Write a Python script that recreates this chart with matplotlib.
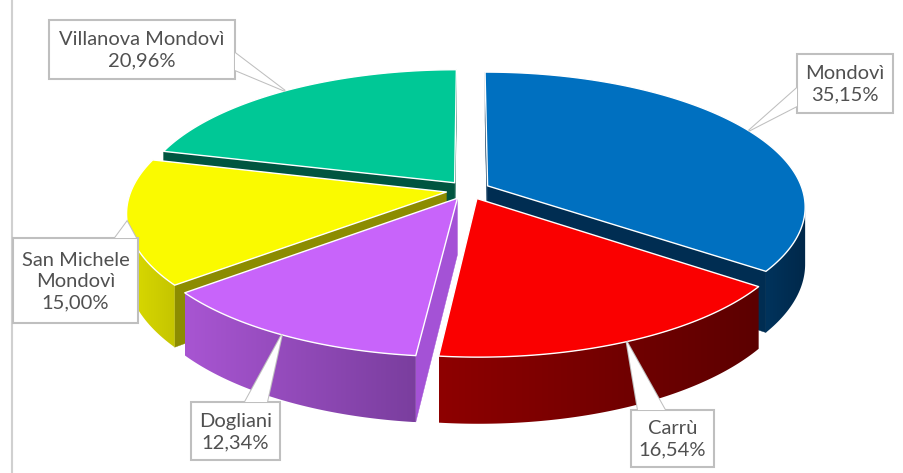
import numpy as np
import matplotlib
matplotlib.use("Agg")
import matplotlib.pyplot as plt
from matplotlib.patches import Polygon, Rectangle
from matplotlib.colors import to_rgb

# ---------------- data ----------------
categories = ["Mondovì", "Carrù", "Dogliani", "San Michele\nMondovì", "Villanova Mondovì"]
values = [35.15, 16.54, 12.34, 15.00, 20.96]
pct_labels = ["35,15%", "16,54%", "12,34%", "15,00%", "20,96%"]

top_colors = ["#0070C0", "#FA0000", "#C864FA", "#FAFA00", "#00C896"]
side_left = ["#00335C", "#8E0000", "#A855D2", "#DCDC00", "#00805F"]
side_right = ["#00284A", "#5C0000", "#7A3E9E", "#C4C400", "#006048"]
radial_colors = ["#002D52", "#6A0000", "#A452D6", "#8C8C00", "#005540"]

# label boxes (pixel layout): x0, y0, x1, y1 ; wedge base points
boxes = [
    (797, 54, 893, 113, [(797, 88), (797, 106)]),
    (631, 410, 714, 467, [(638, 410), (665, 410)]),
    (191, 402, 280, 460, [(245, 402), (267, 402)]),
    (13, 238, 138, 323, [(115, 238), (136, 238)]),
    (49, 20, 235, 79, [(235, 53), (235, 70)]),
]

# ---------------- geometry ----------------
W, H = 904, 473
CX, CY = 468, 190
A, B = 315, 132
P = 0.15
HD = 56
EXPL = 0.07

fig = plt.figure(figsize=(W / 100, H / 100), dpi=100)
ax = fig.add_axes([0, 0, 1, 1])
ax.axis("off")

# left frame line
ax.plot([12.5, 12.5], [0, H], color="#D0D0D0", lw=1.5)


def proj(X, Y, z):
    f = 1.0 / (1.0 + P * Y)
    return CX + A * X * f, CY - B * Y * f + HD * z * f


def area(pts):
    x = np.array([p[0] for p in pts])
    y = np.array([p[1] for p in pts])
    return 0.5 * np.sum(x * np.roll(y, -1) - np.roll(x, -1) * y)


total = sum(values)
bounds = np.concatenate([[0], np.cumsum(values)]) / total * 2 * np.pi
slices = []
for i, v in enumerate(values):
    t0, t1 = bounds[i], bounds[i + 1]
    mid = 0.5 * (t0 + t1)
    dx, dy = EXPL * np.sin(mid), EXPL * np.cos(mid)
    n = max(3, int(np.degrees(t1 - t0) * 1.5))
    th = np.linspace(t0, t1, n)
    rx = np.sin(th) + dx
    ry = np.cos(th) + dy
    slices.append(dict(i=i, t0=t0, t1=t1, mid=mid, dx=dx, dy=dy, rx=rx, ry=ry,
                       depth=np.cos(mid)))

z = 1
# walls: far slices first
for s in sorted(slices, key=lambda s: -s["depth"]):
    i = s["i"]
    rx, ry, dx, dy = s["rx"], s["ry"], s["dx"], s["dy"]
    # radial walls
    for which in ("start", "end"):
        k = 0 if which == "start" else -1
        at, ab = proj(dx, dy, 0), proj(dx, dy, 1)
        rt, rb = proj(rx[k], ry[k], 0), proj(rx[k], ry[k], 1)
        quad = [at, rt, rb, ab] if which == "start" else [rt, at, ab, rb]
        if area(quad) < -1:
            ax.add_patch(Polygon(quad, closed=True, facecolor=radial_colors[i],
                                 edgecolor=radial_colors[i], lw=0.3, zorder=z))
            z += 1
    # outer wall (visible part) with horizontal gradient
    vis = []
    for j in range(len(rx) - 1):
        q = [proj(rx[j], ry[j], 0), proj(rx[j + 1], ry[j + 1], 0),
             proj(rx[j + 1], ry[j + 1], 1), proj(rx[j], ry[j], 1)]
        if area(q) < 0:
            vis.append(j)
    if vis:
        idx = list(range(min(vis), max(vis) + 2))
        top = [proj(rx[j], ry[j], 0) for j in idx]
        bot = [proj(rx[j], ry[j], 1) for j in idx][::-1]
        poly = top + bot
        xs = [p[0] for p in poly]
        ys = [p[1] for p in poly]
        xmin, xmax = min(xs), max(xs)
        c1, c2 = np.array(to_rgb(side_left[i])), np.array(to_rgb(side_right[i]))
        t = np.linspace(0, 1, 256)[None, :, None]
        img = c1 + (c2 - c1) * t
        patch = Polygon(poly, closed=True, facecolor="none", edgecolor="none", zorder=z)
        ax.add_patch(patch)
        im = ax.imshow(img, extent=(xmin, xmax, max(ys), min(ys)), aspect="auto",
                       interpolation="bilinear", zorder=z)
        im.set_clip_path(patch)
        z += 1

# tops
for s in slices:
    i = s["i"]
    pts = [proj(s["dx"], s["dy"], 0)] + [proj(x, y, 0) for x, y in zip(s["rx"], s["ry"])]
    ax.add_patch(Polygon(pts, closed=True, facecolor=top_colors[i],
                         edgecolor="white", lw=1.0, joinstyle="round", zorder=50))

# labels with callouts
for s in slices:
    i = s["i"]
    x0, y0, x1, y1, base = boxes[i]
    mid = s["mid"]
    tip = proj(np.sin(mid) * (1 + EXPL), np.cos(mid) * (1 + EXPL), 0)
    ax.add_patch(Polygon([base[0], tip, base[1]], closed=True, facecolor="white",
                         edgecolor="#BFBFBF", lw=1.5, zorder=60))
    ax.add_patch(Rectangle((x0, y0), x1 - x0, y1 - y0, facecolor="white",
                           edgecolor="#BFBFBF", lw=1.5, zorder=61))
    ax.add_patch(Polygon([base[0], tip, base[1]], closed=True, facecolor="white",
                         edgecolor="none", lw=0, zorder=62))
    ax.text((x0 + x1) / 2, (y0 + y1) / 2 + 1, categories[i] + "\n" + pct_labels[i],
            ha="center", va="center", fontsize=14.5, color="#505050",
            family="Lato", linespacing=1.3, zorder=63)

ax.set_xlim(0, W)
ax.set_ylim(H, 0)
fig.savefig("out.png", dpi=100)
